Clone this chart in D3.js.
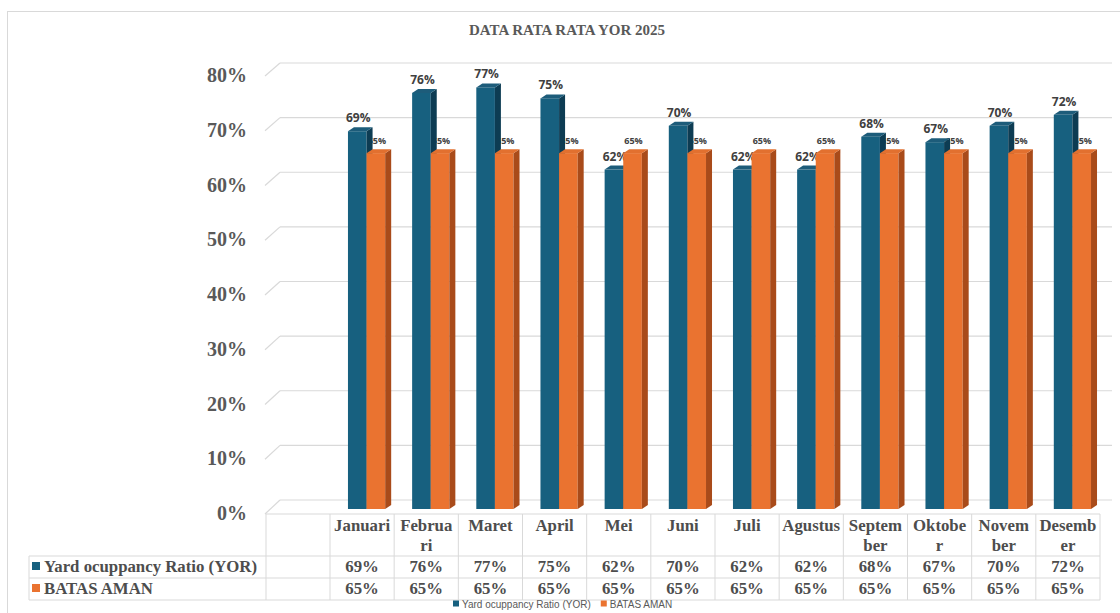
<!DOCTYPE html>
<html>
<head>
<meta charset="utf-8">
<script src="https://cdn.jsdelivr.net/npm/d3@7"></script>
<style>
  body { margin: 0; background: #fff; }
  svg { display: block; }
</style>
</head>
<body>
<svg id="chart" width="1120" height="613"></svg>
<script>
// data
var months = ["Januari", "Februari", "Maret", "April", "Mei", "Juni", "Juli", "Agustus", "September", "Oktober", "November", "Desember"];
var monthLabels = ["Januari", "Februa|ri", "Maret", "April", "Mei", "Juni", "Juli", "Agustus", "Septem|ber", "Oktobe|r", "Novem|ber", "Desemb|er"];
var yor = [0.69, 0.76, 0.77, 0.75, 0.62, 0.70, 0.62, 0.62, 0.68, 0.67, 0.70, 0.72];
var batasAman = [0.65, 0.65, 0.65, 0.65, 0.65, 0.65, 0.65, 0.65, 0.65, 0.65, 0.65, 0.65];
var seriesNames = ["Yard ocuppancy Ratio (YOR)", "BATAS AMAN"];
var yTicks = [0, 0.1, 0.2, 0.3, 0.4, 0.5, 0.6, 0.7, 0.8];

var blue = { front: "#17607f", side: "#0d3c53", top: "#1d5c7a" };
var orange = { front: "#ea7330", side: "#a94b1a", top: "#e2702f" };
var grid = "#d9d9d9";
var textGray = "#595959";

var svg = d3.select("#chart");

// outer chart frame
svg.append("rect")
    .attr("x", 7.5).attr("y", 11.5)
    .attr("width", 1130).attr("height", 620)
    .attr("fill", "#fff").attr("stroke", "#d9d9d9");

// title
svg.append("text")
    .attr("x", 567).attr("y", 35)
    .attr("text-anchor", "middle")
    .style("font-family", "'Liberation Serif', serif")
    .style("font-weight", "bold")
    .style("font-size", "15px")
    .attr("fill", textGray)
    .text("DATA RATA RATA YOR 2025");

// scales: x for table columns, y for bar front faces, back wall, and axis labels
var x = d3.scaleBand().domain(months).range([330, 1100]);
var y = d3.scaleLinear().domain([0, 0.8]).range([509, 71]);
var yBack = d3.scaleLinear().domain([0, 0.8]).range([500, 63]);
var yFront = d3.scaleLinear().domain([0, 0.8]).range([514, 76]);

var dx = 6, dy = -4; // bar depth

// back wall gridlines + little perspective ticks on the left
var gl = svg.append("g");
yTicks.forEach(function(t) {
    gl.append("line")
        .attr("x1", 280).attr("x2", 1112)
        .attr("y1", yBack(t)).attr("y2", yBack(t))
        .attr("stroke", grid).attr("stroke-width", 1.2);
    gl.append("line")
        .attr("x1", 265).attr("x2", 280)
        .attr("y1", yFront(t)).attr("y2", yBack(t))
        .attr("stroke", grid).attr("stroke-width", 1.2);
});

// y axis labels
svg.append("g").selectAll("text")
    .data(yTicks)
    .join("text")
    .attr("x", 247)
    .attr("y", function(d) { return yFront(d) - 1; })
    .attr("dy", "0.35em")
    .attr("text-anchor", "end")
    .style("font-family", "'Liberation Serif', serif")
    .style("font-weight", "bold")
    .style("font-size", "20px")
    .attr("fill", textGray)
    .text(d3.format(".0%"));

var bw = x.bandwidth();
var barW = bw * 0.29;
function blueX(m) { return x(m) + bw * 0.28; }
function orangeX(m) { return blueX(m) + barW; }

function drawBar(g, x0, v, c) {
    var top = y(v), bot = y(0);
    g.append("rect")
        .attr("x", x0).attr("y", top)
        .attr("width", barW).attr("height", bot - top)
        .attr("fill", c.front);
    g.append("path")
        .attr("d", "M" + (x0 + barW) + "," + top + "L" + (x0 + barW + dx) + "," + (top + dy) +
            "L" + (x0 + barW + dx) + "," + (bot + dy) + "L" + (x0 + barW) + "," + bot + "Z")
        .attr("fill", c.side);
    g.append("path")
        .attr("d", "M" + x0 + "," + top + "L" + (x0 + dx) + "," + (top + dy) +
            "L" + (x0 + barW + dx) + "," + (top + dy) + "L" + (x0 + barW) + "," + top + "Z")
        .attr("fill", c.top);
}

var fmt = d3.format(".0%");
var labelFont = "'Open Sans', 'Liberation Sans', sans-serif";

// per category: orange label, blue bar, blue label, orange bar (keeps the overlaps of the original)
months.forEach(function(m, i) {
    var g = svg.append("g");
    g.append("text")
        .attr("x", orangeX(m) + barW / 2 + 1)
        .attr("y", y(batasAman[i]) + dy - 5)
        .attr("text-anchor", "middle")
        .style("font-family", labelFont)
        .style("font-weight", "bold")
        .style("font-size", "9px")
        .attr("fill", "#404040")
        .text(fmt(batasAman[i]));
    drawBar(g, blueX(m), yor[i], blue);
    g.append("text")
        .attr("x", blueX(m) + barW / 2 + 1)
        .attr("y", y(yor[i]) + dy - 5)
        .attr("text-anchor", "middle")
        .style("font-family", labelFont)
        .style("font-weight", "bold")
        .style("font-size", "12px")
        .attr("fill", "#404040")
        .text(fmt(yor[i]));
    drawBar(g, orangeX(m), batasAman[i], orange);
});

// data table underneath
var rowTop = 514, headerH = 42, rowH = 22;
var tbl = svg.append("g");
var tableStyle = function(sel) {
    sel.style("font-family", "'Liberation Serif', serif")
        .style("font-weight", "bold")
        .style("font-size", "16.8px")
        .attr("fill", "#4d4d4d");
};

// horizontal lines
tbl.append("line").attr("x1", 266).attr("x2", 1100)
    .attr("y1", rowTop).attr("y2", rowTop).attr("stroke", grid);
[rowTop + headerH, rowTop + headerH + rowH, rowTop + headerH + 2 * rowH].forEach(function(yy) {
    tbl.append("line").attr("x1", 29).attr("x2", 1100)
        .attr("y1", yy).attr("y2", yy).attr("stroke", grid);
});
// vertical lines
var bottom = rowTop + headerH + 2 * rowH;
tbl.append("line").attr("x1", 29).attr("x2", 29)
    .attr("y1", rowTop + headerH).attr("y2", bottom).attr("stroke", grid);
[266].concat(months.map(function(m) { return x(m); }), [1100]).forEach(function(xx) {
    tbl.append("line").attr("x1", xx).attr("x2", xx)
        .attr("y1", rowTop).attr("y2", bottom).attr("stroke", grid);
});

// header labels
months.forEach(function(m, i) {
    var parts = monthLabels[i].split("|");
    parts.forEach(function(p, j) {
        tbl.append("text")
            .attr("x", x(m) + bw / 2)
            .attr("y", rowTop + 17 + j * 20)
            .attr("text-anchor", "middle")
            .call(tableStyle)
            .text(p);
    });
});

// value rows
[yor, batasAman].forEach(function(vals, r) {
    var ry = rowTop + headerH + r * rowH + 16;
    var c = r === 0 ? blue.front : orange.front;
    tbl.append("rect").attr("x", 32).attr("y", ry - 10)
        .attr("width", 8).attr("height", 8).attr("fill", c);
    tbl.append("text").attr("x", 44).attr("y", ry)
        .call(tableStyle)
        .text(seriesNames[r]);
    vals.forEach(function(v, i) {
        tbl.append("text")
            .attr("x", x(months[i]) + bw / 2)
            .attr("y", ry)
            .attr("text-anchor", "middle")
            .call(tableStyle)
            .text(fmt(v));
    });
});

// legend at the bottom
var lg = svg.append("g").attr("transform", "translate(453,604)");
var lx = 0;
seriesNames.forEach(function(n, i) {
    lg.append("rect").attr("x", lx).attr("y", -3.5)
        .attr("width", 6).attr("height", 6)
        .attr("fill", i === 0 ? blue.front : orange.front);
    var t = lg.append("text").attr("x", lx + 9).attr("y", 0)
        .attr("dy", "0.35em")
        .style("font-family", "'Liberation Sans', sans-serif")
        .style("font-size", "10px")
        .attr("fill", textGray)
        .text(n);
    lx += 9 + t.node().getComputedTextLength() + 10;
});
</script>
</body>
</html>
